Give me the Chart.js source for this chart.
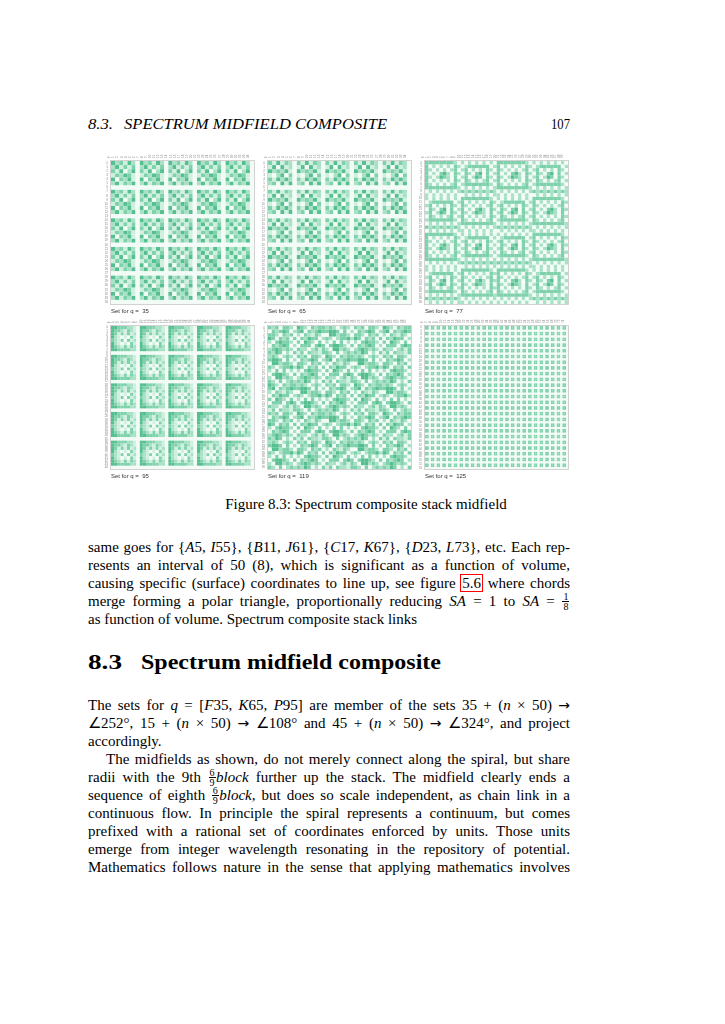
<!DOCTYPE html>
<html>
<head>
<meta charset="utf-8">
<script src="https://cdn.jsdelivr.net/npm/chart.js@4.4.0/dist/chart.umd.min.js"></script>
<style>
  html, body { margin:0; padding:0; background:#fff; }
  body { width:725px; height:1024px; position:relative; overflow:hidden;
         font-family:'Liberation Serif','Times New Roman',serif; font-size:15px; color:#000; }
  .t { position:absolute; line-height:18px; white-space:nowrap; transform-origin:0 0; }
  .it { font-style:italic; }
  i { font-style:italic; }
  .ar { font-family:'DejaVu Sans',sans-serif; font-size:14px; }
  .lnk { outline:1px solid #ff0000; outline-offset:0px; padding:0 1px; }
  .fr { display:inline-block; position:relative; width:8px; height:0; vertical-align:baseline; }
  .fr .n, .fr .d { position:absolute; left:0; right:0; text-align:center; font-size:10px; line-height:9px; }
  .fr .n { top:-14px; }
  .fr .d { top:-4px; }
  .fr .b { position:absolute; left:0.5px; right:0.5px; top:-5px; height:0; border-top:0.7px solid #000; }
  .h { font-weight:bold; font-size:21px; line-height:24px; }
  .panel { position:absolute; width:161px; height:165px; }
  .cap { position:absolute; width:482px; text-align:center; line-height:18px; }
</style>
</head>
<body>

<div class="t it f" style="left:88px; top:115px" data-w="25">8.3.</div>
<div class="t it f" style="left:124px; top:115px" data-w="263">SPECTRUM MIDFIELD COMPOSITE</div>
<div class="t f" style="left:551px; top:115px" data-w="19">107</div>

<div class="panel" style="left:102px; top:152px"><canvas id="c0"></canvas></div>
<div class="panel" style="left:259px; top:152px"><canvas id="c1"></canvas></div>
<div class="panel" style="left:416px; top:152px"><canvas id="c2"></canvas></div>
<div class="panel" style="left:102px; top:317px"><canvas id="c3"></canvas></div>
<div class="panel" style="left:259px; top:317px"><canvas id="c4"></canvas></div>
<div class="panel" style="left:416px; top:317px"><canvas id="c5"></canvas></div>

<div class="cap" style="top:494.5px; left:125px">Figure 8.3: Spectrum composite stack midfield</div>

<div class="t j" style="left:88px; top:537.5px" data-w="482">same goes for {<i>A</i>5, <i>I</i>55}, {<i>B</i>11, <i>J</i>61}, {<i>C</i>17, <i>K</i>67}, {<i>D</i>23, <i>L</i>73}, etc. Each rep-</div>
<div class="t j" style="left:88px; top:555.5px" data-w="482">resents an interval of 50 (8), which is significant as a function of volume,</div>
<div class="t j" style="left:88px; top:573.5px" data-w="482">causing specific (surface) coordinates to line up, see figure <span class="lnk">5.6</span> where chords</div>
<div class="t j" style="left:88px; top:591.5px" data-w="482">merge forming a polar triangle, proportionally reducing <i>SA</i> = 1 to <i>SA</i> = <span class="fr"><span class="n">1</span><span class="b"></span><span class="d">8</span></span></div>
<div class="t" style="left:88px; top:609.5px">as function of volume. Spectrum composite stack links</div>

<div class="t h f" style="left:88px; top:650px" data-w="34">8.3</div>
<div class="t h f" style="left:141px; top:650px" data-w="300">Spectrum midfield composite</div>

<div class="t j" style="left:88px; top:695.5px" data-w="482">The sets for <i>q</i> = [<i>F</i>35, <i>K</i>65, <i>P</i>95] are member of the sets 35 + (<i>n</i> × 50) <span class="ar">→</span></div>
<div class="t j" style="left:88px; top:713.5px" data-w="482">∠252°, 15 + (<i>n</i> × 50) <span class="ar">→</span> ∠108° and 45 + (<i>n</i> × 50) <span class="ar">→</span> ∠324°, and project</div>
<div class="t" style="left:88px; top:731.5px">accordingly.</div>
<div class="t j" style="left:106px; top:749.5px" data-w="464">The midfields as shown, do not merely connect along the spiral, but share</div>
<div class="t j" style="left:88px; top:767.5px" data-w="482">radii with the 9th <span class="fr"><span class="n">6</span><span class="b"></span><span class="d">9</span></span><i>block</i> further up the stack. The midfield clearly ends a</div>
<div class="t j" style="left:88px; top:785.5px" data-w="482">sequence of eighth <span class="fr"><span class="n">6</span><span class="b"></span><span class="d">9</span></span><i>block</i>, but does so scale independent, as chain link in a</div>
<div class="t j" style="left:88px; top:803.5px" data-w="482">continuous flow. In principle the spiral represents a continuum, but comes</div>
<div class="t j" style="left:88px; top:821.5px" data-w="482">prefixed with a rational set of coordinates enforced by units. Those units</div>
<div class="t j" style="left:88px; top:839.5px" data-w="482">emerge from integer wavelength resonating in the repository of potential.</div>
<div class="t j" style="left:88px; top:857.5px" data-w="482">Mathematics follows nature in the sense that applying mathematics involves</div>

<script>
// ---------------- data ----------------
const panelQ = [35, 65, 77, 95, 119, 125];
const panelLabels = ['Set for q =  35', 'Set for q =  65', 'Set for q =  77',
                     'Set for q =  95', 'Set for q =  119', 'Set for q =  125'];
// intensity level colours 0 (lightest) .. 4 (darkest)
const levelColors = ['#f2fbf6', '#cfefdf', '#a8e1c6', '#7fd1ab', '#55bf8f'];

// observed repeating blocks (digits = intensity level per cell)
const tile35 = [
  "4231420",
  "2413130",
  "3140240",
  "1324310",
  "4032410",
  "2413240",
  "0000000"
];
const tile65 = [
  "3141320",
  "1404120",
  "4232410",
  "1024030",
  "3142420",
  "2304140",
  "0000000"
];
const tile77A = [
  "3333333320",
  "3020202032",
  "3202020230",
  "3020342032",
  "3202432030",
  "3020202032",
  "3202020230",
  "3333333332",
  "0202020202",
  "2020202020"
];
const tile77B = [
  "2020202020",
  "0233333302",
  "2302020320",
  "0320340302",
  "2302430320",
  "0320202302",
  "2333333320",
  "0202020202",
  "3232323232",
  "0202020202"
];
const tile95 = [
  "443332210",
  "433213210",
  "431313120",
  "421010310",
  "321303120",
  "421010310",
  "432131320",
  "443333220",
  "000000000"
];
const tile119A = [
  "32303320",
  "03234302",
  "33203230",
  "43032303",
  "20343320",
  "03234302",
  "23432320",
  "32430203"
];
const tile119B = [
  "43203233",
  "34032343",
  "20321320",
  "03243302",
  "30432030",
  "03330343",
  "32202313",
  "13032213"
];
const tile119C = [
  "23202320",
  "34430302",
  "04423320",
  "32023342",
  "20303020",
  "03443203",
  "20442320",
  "32030232"
];
const tile125 = [
  "330",
  "330",
  "000"
];

// block arrangement per panel (letters pick a block)
const layout35 = ["AAAAA", "AAAAA", "AAAAA", "AAAAA", "AAAAA"];
const layout65 = ["AAAAA", "AAAAA", "AAAAA", "AAAAA", "AAAAA"];
const layout77 = ["ABAB", "BABA", "ABBA", "BAAB"];
const layout95 = ["AAAAA", "AAAAA", "AAAAA", "AAAAA", "AAAAA"];
const layout119 = ["ABCAB", "CABCA", "BCABC", "ABCAB", "CABCA"];
const layout125 = Array(25).fill("A".repeat(25));

const panelBlocks = [
  [{A: tile35}, layout35],
  [{A: tile65}, layout65],
  [{A: tile77A, B: tile77B}, layout77],
  [{A: tile95}, layout95],
  [{A: tile119A, B: tile119B, C: tile119C}, layout119],
  [{A: tile125}, layout125]
];

// ---------------- build ----------------
function buildRows(tiles, layout) {
  const rows = [];
  layout.forEach(lrow => {
    const h = tiles[lrow[0]].length;
    for (let r = 0; r < h; r++) {
      let s = '';
      for (const ch of lrow) s += tiles[ch][r];
      rows.push(s);
    }
  });
  return rows;
}

const framePlugin = {
  id: 'frame',
  afterDatasetsDraw(chart) {
    const {ctx, chartArea: a} = chart;
    ctx.save();
    ctx.strokeStyle = '#c8c8c8';
    ctx.lineWidth = 0.8;
    ctx.strokeRect(a.left - 0.5, a.top - 0.5, a.right - a.left + 1, a.bottom - a.top + 1);
    ctx.restore();
  }
};

panelBlocks.forEach(([tiles, layout], p) => {
  const rows = buildRows(tiles, layout);
  const N = rows.length;
  const step = N > 45 ? 2 : 1;
  const tickVals = [];
  for (let i = 0; i < N; i += step) tickVals.push(i);

  const datasets = levelColors.map(col => ({
    data: [],
    backgroundColor: col,
    borderWidth: 0,
    pointStyle: 'rect',
    pointRadius: ctx => {
      const a = ctx.chart.chartArea;
      return a ? (a.right - a.left) / N / Math.SQRT2 * 1.03 : 1;
    },
    pointHoverRadius: 0
  }));
  rows.forEach((row, r) => {
    [...row].forEach((ch, c) => datasets[+ch].data.push({x: c, y: r}));
  });

  const tickFont = {size: 3, family: 'Liberation Sans'};
  new Chart(document.getElementById('c' + p), {
    type: 'scatter',
    data: {datasets},
    options: {
      responsive: true,
      maintainAspectRatio: false,
      animation: false,
      events: [],
      layout: {padding: {left: 0, right: 9, top: 0, bottom: 1.8}},
      plugins: {
        legend: {display: false},
        tooltip: {enabled: false},
        title: {
          display: true, text: panelLabels[p], position: 'bottom', align: 'start',
          fullSize: false, color: '#333',
          font: {family: 'Liberation Sans', size: 6, weight: 'normal'},
          padding: {top: 4, bottom: 0}
        }
      },
      scales: {
        x: {
          type: 'linear', position: 'top', min: -0.5, max: N - 0.5,
          grid: {display: false, drawTicks: false}, border: {display: false},
          ticks: {font: tickFont, color: '#888', padding: 3,
                  maxRotation: 90, minRotation: 90, autoSkip: false, callback: v => String(v)},
          afterBuildTicks: s => { s.ticks = tickVals.map(v => ({value: v})); },
          afterFit: s => { s.height = 9; s.paddingLeft = 0; s.paddingRight = 0; }
        },
        y: {
          type: 'linear', position: 'left', reverse: true, min: -0.5, max: N - 0.5,
          grid: {display: false, drawTicks: false}, border: {display: false},
          ticks: {font: tickFont, color: '#888', padding: 3,
                  autoSkip: false, callback: v => String(v)},
          afterBuildTicks: s => { s.ticks = tickVals.map(v => ({value: v})); },
          afterFit: s => { s.width = 9; s.paddingTop = 0; s.paddingBottom = 0; }
        }
      }
    },
    plugins: [framePlugin]
  });
});

// ---------------- text fitting ----------------
function fitText() {
  document.querySelectorAll('.j').forEach(el => {
    el.style.wordSpacing = '0px';
    el.style.transform = 'none';
    const target = parseFloat(el.dataset.w);
    const nat = el.getBoundingClientRect().width;
    const spaces = el.textContent.replace(/\s+/g, ' ').trim().split(' ').length - 1;
    if (nat < target && spaces > 0) {
      el.style.wordSpacing = ((target - nat) / spaces) + 'px';
    } else if (nat > target) {
      el.style.transform = 'scaleX(' + (target / nat) + ')';
    }
  });
  document.querySelectorAll('.f').forEach(el => {
    el.style.transform = 'none';
    const target = parseFloat(el.dataset.w);
    const nat = el.getBoundingClientRect().width;
    el.style.transform = 'scaleX(' + (target / nat) + ')';
  });
}
fitText();
if (document.fonts && document.fonts.ready) document.fonts.ready.then(fitText);
</script>
</body>
</html>
